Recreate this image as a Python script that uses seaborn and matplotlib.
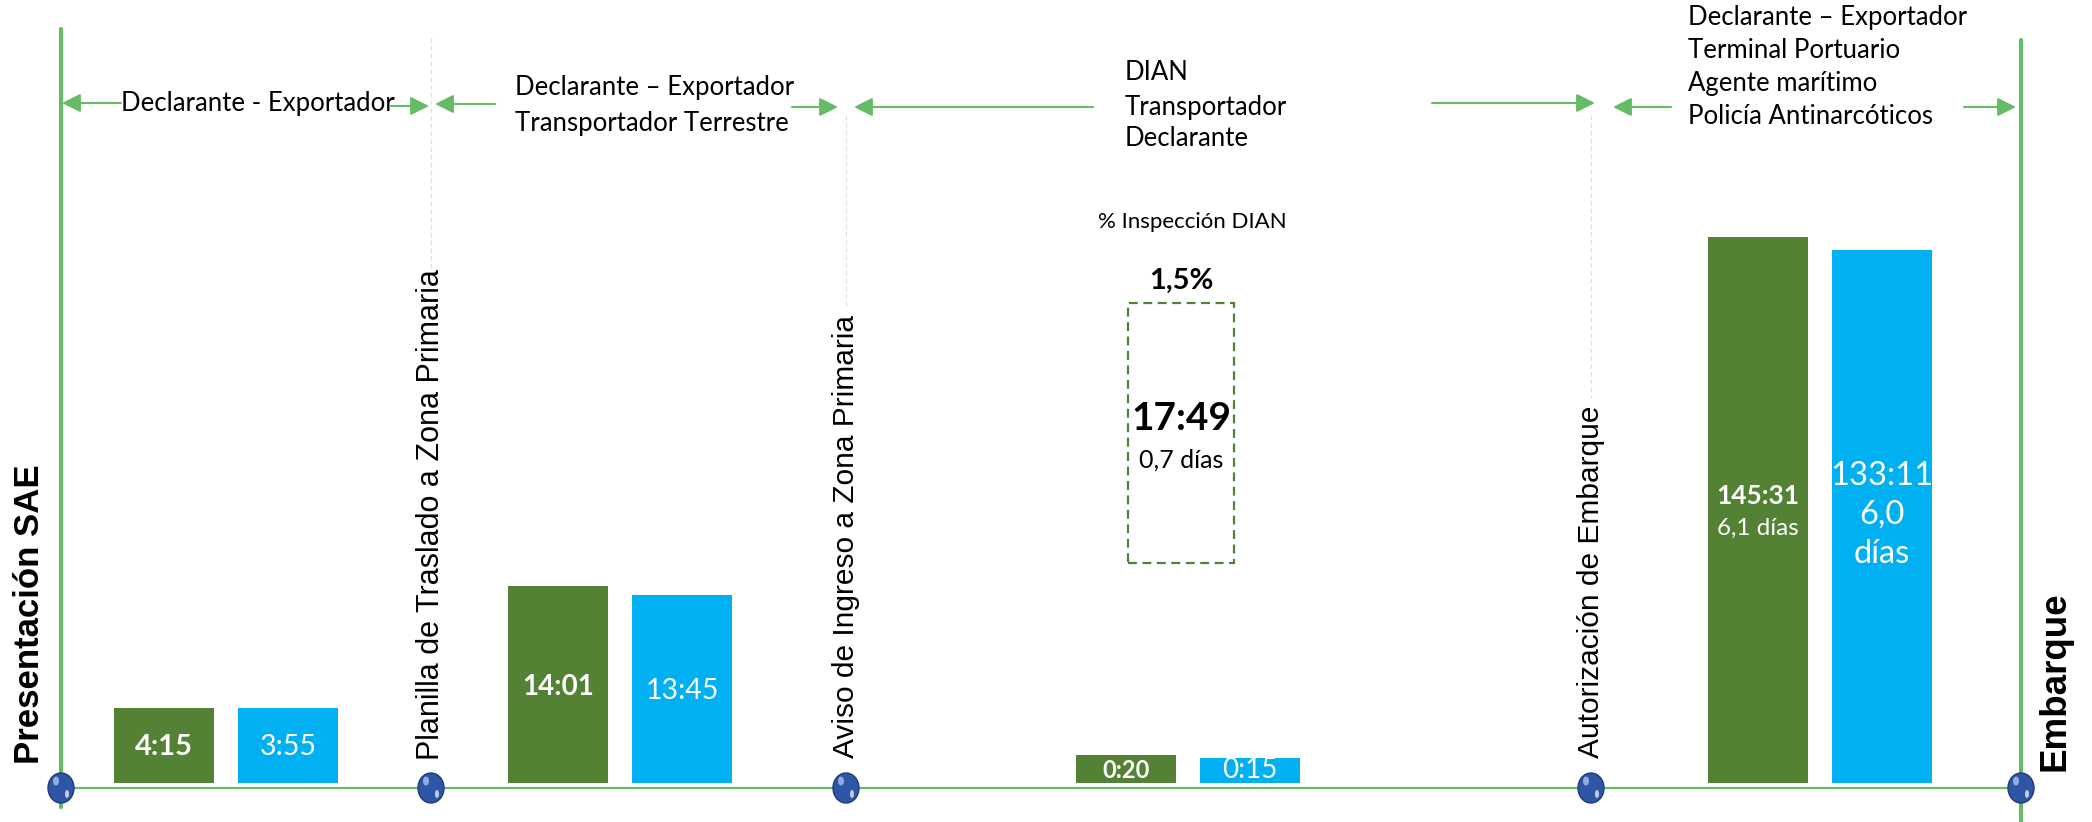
import pandas as pd
import seaborn as sns
import matplotlib.pyplot as plt
from matplotlib.patches import Rectangle, Ellipse

# Datos
series = ["Periodo 1", "Periodo 2"]
tiempo_1 = ["4:15", "14:01", "0:20", "145:31"]
tiempo_2 = ["3:55", "13:45", "0:15", "133:11"]
# alturas de las barras tal como se dibujan (esquema, no proporcionales al tiempo)
altura_1 = [75, 197, 28, 546]
altura_2 = [75, 188, 25, 533]
dias_1_ultimo = "6,1 días"
dias_2_ultimo = ["6,0", "días"]

hitos = ["Presentación SAE", "Planilla de Traslado a Zona Primaria",
         "Aviso de Ingreso a Zona Primaria", "Autorización de Embarque", "Embarque"]
actores = [["Declarante - Exportador"],
           ["Declarante – Exportador", "Transportador Terrestre"],
           ["DIAN", "Transportador", "Declarante"],
           ["Declarante – Exportador", "Terminal Portuario", "Agente marítimo",
            "Policía Antinarcóticos"]]
inspeccion_titulo = "% Inspección DIAN"
inspeccion_pct = "1,5%"
inspeccion_tiempo = "17:49"
inspeccion_dias = "0,7 días"

# Layout (pixel coordinates of the 2092x822 canvas)
W, H = 2092, 822
BASE = 783                      # bar bottom, pixel row
def Y(p):
    return BASE - p

hito_x = [61, 431, 846, 1591, 2021]
tramo_x = [226, 620, 1188, 1820]
verde, azul = "#548235", "#00B0F0"
linea = "#66BB66"

df = pd.DataFrame({
    "x": tramo_x * 2,
    "altura": altura_1 + altura_2,
    "serie": [series[0]] * 4 + [series[1]] * 4,
})

sns.set_theme(style="white")
plt.rcParams["font.family"] = ["Lato", "DejaVu Sans"]
plt.rcParams["text.color"] = "black"

fig = plt.figure(figsize=(W / 100, H / 100), dpi=100)
ax = fig.add_axes([0, 0, 1, 1])
sns.barplot(data=df, x="x", y="altura", hue="serie", native_scale=True,
            palette=[verde, azul], width=0.63, gap=0.19, errorbar=None,
            saturation=1, linewidth=0, legend=False, ax=ax)
ax.set_xlim(0, W)
ax.set_ylim(Y(H), Y(0))
ax.axis("off")

# timeline lines
ax.plot([hito_x[0], hito_x[-1] + 10], [Y(788), Y(788)], color=linea, lw=1.6, zorder=1)
ax.plot([hito_x[0], hito_x[0]], [Y(29), Y(807)], color=linea, lw=3, zorder=1)
ax.plot([hito_x[-1], hito_x[-1]], [Y(40), Y(822)], color=linea, lw=3, zorder=1)
for x, top, bot in [(431, 38, 272), (846, 115, 308), (1591, 115, 398)]:
    ax.plot([x, x], [Y(top), Y(bot)], color="#DDDDDD", lw=0.8, ls=(0, (4, 3)), zorder=1)

# circles
for x in hito_x:
    ax.add_patch(Ellipse((x, Y(788)), 26, 30, facecolor="#2F56A6",
                         edgecolor="#1E3C7A", lw=1, zorder=4))
    ax.add_patch(Ellipse((x - 5, Y(781)), 6, 9, facecolor="#A9C4F0", alpha=0.8,
                         lw=0, zorder=5))
    ax.add_patch(Ellipse((x + 6, Y(794)), 4, 8, facecolor="white", alpha=0.7,
                         lw=0, zorder=5))

# milestone labels (rotated)
hito_lbl = [(30, 764, 25, "bold"), (431, 760, 22, "normal"), (846, 758, 21.5, "normal"),
            (1591, 758, 21.5, "normal"), (2055, 771, 26.5, "bold")]
for txt, (x, y, fs, fw) in zip(hitos, hito_lbl):
    ax.text(x, Y(y), txt, rotation=90, ha="center", va="bottom", fontsize=fs,
            fontweight=fw, family="Liberation Sans", color="black", zorder=6)

# arrows
flechas = [(121, 62, 103), (391, 429, 106), (495, 435, 104), (792, 838, 107),
           (1093, 854, 107), (1432, 1595, 103), (1671, 1613, 107), (1964, 2016, 107)]
for x0, x1, y in flechas:
    ax.annotate("", xy=(x1, Y(y)), xytext=(x0, Y(y)),
                arrowprops=dict(arrowstyle="-|>,head_length=0.8,head_width=0.4",
                                color=linea, lw=1.5, mutation_scale=14,
                                shrinkA=0, shrinkB=0))

# actors text blocks
bloques = [(121, [103]), (515, [88, 123]), (1125, [72, 107, 139]),
           (1688, [17, 50, 83, 117])]
for lines, (x, ys) in zip(actores, bloques):
    for t, y in zip(lines, ys):
        ax.text(x, Y(y), t, ha="left", va="center", fontsize=18.5)

# bar value labels
pos_1 = [(747, 21), (687, 20), (770, 17), (496, 19)]
pos_2 = [(747, 20.5), (691, 20.5), (770, 20), (476, 23.5)]
for i, x in enumerate(tramo_x):
    y, fs = pos_1[i]
    ax.text(x - 62, Y(y), tiempo_1[i], ha="center", va="center", fontsize=fs,
            fontweight="bold", color="white", zorder=6)
    y, fs = pos_2[i]
    ax.text(x + 62, Y(y), tiempo_2[i], ha="center", va="center", fontsize=fs,
            color="white", zorder=6)
ax.text(tramo_x[3] - 62, Y(528), dias_1_ultimo, ha="center", va="center",
        fontsize=17.5, color="white")
for t, y in zip(dias_2_ultimo, [515, 554]):
    ax.text(tramo_x[3] + 62, Y(y), t, ha="center", va="center", fontsize=23.5,
            color="white")

# inspection box
ax.add_patch(Rectangle((1128, Y(563)), 106, 260, fill=False, edgecolor=verde,
                       lw=1.6, ls=(0, (4, 2.5))))
ax.text(1192, Y(222), inspeccion_titulo, ha="center", va="center", fontsize=16)
ax.text(1181, Y(281), inspeccion_pct, ha="center", va="center", fontsize=21,
        fontweight="bold")
ax.text(1181, Y(418), inspeccion_tiempo, ha="center", va="center", fontsize=28,
        fontweight="bold")
ax.text(1181, Y(460), inspeccion_dias, ha="center", va="center", fontsize=18)

fig.savefig("out.png", dpi=100)
